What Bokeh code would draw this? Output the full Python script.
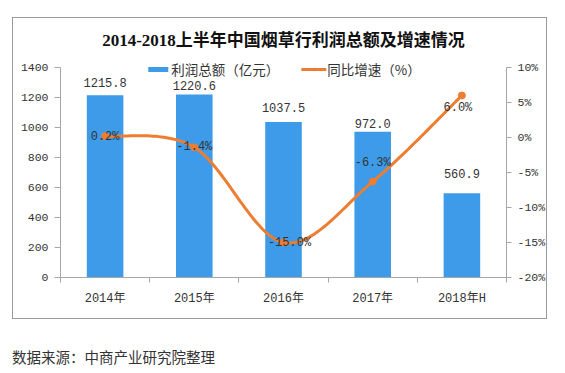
import numpy as np
from bokeh.plotting import figure
from bokeh.models import (Range1d, LinearAxis, FixedTicker, PrintfTickFormatter,
                          ColumnDataSource, LabelSet, Legend, LegendItem, Div)
from bokeh.layouts import column
from bokeh.embed import file_html
from bokeh.resources import INLINE
from bokeh.core.properties import value

# ---- data ----
categories = ["2014年", "2015年", "2016年", "2017年", "2018年H"]
profit = [1215.8, 1220.6, 1037.5, 972.0, 560.9]          # 利润总额（亿元）
growth = [0.2, -1.4, -15.0, -6.3, 6.0]                    # 同比增速（%）
left_ticks = [0, 200, 400, 600, 800, 1000, 1200, 1400]
right_ticks = [-20, -15, -10, -5, 0, 5, 10]
title_text = "2014-2018上半年中国烟草行利润总额及增速情况"
legend_labels = ["利润总额（亿元）", "同比增速（%）"]
source_text = "数据来源：中商产业研究院整理"

# label nudges (style)
profit_label_dy = [13, 9, 14, 8, 20]
growth_label_dx = [0, 0, 6, 0, -4]
growth_label_dy = [-1, 0, 0, 19, -12]

BAR = "#3D9BE9"
ORANGE = "#ED7D31"
AXIS = "#A6A6A6"
TXT = "#333333"
NUM_FONT = "Liberation Mono, Noto Sans CJK SC"

xs = list(range(len(categories)))
L_MIN, L_MAX = left_ticks[0], left_ticks[-1]
R_MIN, R_MAX = right_ticks[0], right_ticks[-1]
# small headroom above the top tick (8px of a 218px frame)
head = 8 / 210
p = figure(width=535, height=302, x_range=Range1d(-0.5, 4.5),
           y_range=Range1d(L_MIN, L_MAX + (L_MAX - L_MIN) * head),
           output_backend="svg", toolbar_location=None,
           min_border_left=47, min_border_right=40, min_border_top=41, min_border_bottom=43)
p.extra_y_ranges = {"pct": Range1d(R_MIN, R_MAX + (R_MAX - R_MIN) * head)}
p.outline_line_color = None
p.xgrid.visible = False
p.ygrid.visible = False
p.background_fill_color = "white"
p.border_fill_color = "white"
p.styles = {"border": "1px solid #9a9a9a"}
p.margin = (17, 0, 0, 12)

# title
p.title.text = title_text
p.title.align = "center"
p.title.text_font = "Liberation Serif, Noto Sans CJK SC"
p.title.text_font_size = "17px"
p.title.text_font_style = "bold"
p.title.text_color = "#111111"
p.title.standoff = 20

# axes
xa = p.xaxis[0]
xa.ticker = FixedTicker(ticks=xs, minor_ticks=[i - 0.5 for i in range(len(categories) + 1)])
xa.major_label_overrides = {i: c for i, c in zip(xs, categories)}
xa.major_tick_out = 0
xa.major_tick_in = 0
xa.minor_tick_out = 5
xa.minor_tick_in = 0
xa.minor_tick_line_color = AXIS
xa.axis_line_color = AXIS
xa.major_label_standoff = 9
xa.major_label_text_font = NUM_FONT
xa.major_label_text_font_size = "12px"
xa.major_label_text_color = TXT

ya = p.yaxis[0]
ya.ticker = FixedTicker(ticks=left_ticks)
ya.bounds = (L_MIN, L_MAX)
ya.major_tick_out = 6
ya.major_tick_in = 0
ya.minor_tick_out = 0
ya.minor_tick_in = 0
ya.axis_line_color = AXIS
ya.major_tick_line_color = AXIS
ya.major_label_standoff = 6
ya.major_label_text_font = NUM_FONT
ya.major_label_text_font_size = "11.5px"
ya.major_label_text_color = TXT

ra = LinearAxis(y_range_name="pct", ticker=FixedTicker(ticks=right_ticks),
                formatter=PrintfTickFormatter(format="%d%%"), bounds=(R_MIN, R_MAX))
ra.major_tick_out = 5
ra.major_tick_in = 0
ra.minor_tick_out = 0
ra.minor_tick_in = 0
ra.axis_line_color = AXIS
ra.major_tick_line_color = AXIS
ra.major_label_standoff = 6
ra.major_label_text_font = NUM_FONT
ra.major_label_text_font_size = "11.5px"
ra.major_label_text_color = TXT
p.add_layout(ra, "right")

# bars
bar_src = ColumnDataSource(dict(x=xs, top=profit, label=[f"{v:.1f}" for v in profit],
                                dy=profit_label_dy))
bars = p.vbar(x="x", top="top", width=0.41, source=bar_src, fill_color=BAR, line_color=None)
p.add_layout(LabelSet(x="x", y="top", text="label", source=bar_src, y_offset="dy",
                      text_align="center", text_baseline="middle",
                      text_font=value(NUM_FONT), text_font_size=value("12px"),
                      text_color=TXT))

# smoothed line (Catmull-Rom style bezier like Excel smoothing)
P = np.array([xs, growth], dtype=float).T
Pext = np.vstack([P[0], P, P[-1]])
t = np.linspace(0, 1, 40)[:, None]
cx, cy = [], []
for i in range(len(P) - 1):
    p0, p3 = P[i], P[i + 1]
    c1 = p0 + (Pext[i + 2] - Pext[i]) / 6.0
    c2 = p3 - (Pext[i + 3] - Pext[i + 1]) / 6.0
    B = (1 - t) ** 3 * p0 + 3 * (1 - t) ** 2 * t * c1 + 3 * (1 - t) * t ** 2 * c2 + t ** 3 * p3
    if i > 0:
        B = B[1:]
    cx.extend(B[:, 0]); cy.extend(B[:, 1])
line_r = p.line(cx, cy, y_range_name="pct", line_color=ORANGE, line_width=3, line_cap="round")
pt_src = ColumnDataSource(dict(x=xs, y=growth, label=[f"{v:.1f}%" for v in growth],
                               dx=growth_label_dx, dy=growth_label_dy))
pts = p.scatter(x="x", y="y", source=pt_src, y_range_name="pct", size=7,
                fill_color=ORANGE, line_color=ORANGE)
p.add_layout(LabelSet(x="x", y="y", text="label", source=pt_src, y_range_name="pct",
                      x_offset="dx", y_offset="dy",
                      text_align="center", text_baseline="middle",
                      text_font=value(NUM_FONT), text_font_size=value("12px"),
                      text_color=TXT))

# legend
legend = Legend(items=[LegendItem(label=legend_labels[0], renderers=[bars]),
                       LegendItem(label=legend_labels[1], renderers=[line_r, pts])],
                orientation="horizontal", location="top_center",
                border_line_color=None, background_fill_alpha=0,
                label_text_font="Noto Sans CJK SC", label_text_font_size="13.5px",
                label_text_color=TXT, glyph_width=25, glyph_height=6, label_height=13,
                label_standoff=1, spacing=22, padding=0, margin=0)
p.add_layout(legend)

src_div = Div(text=source_text, margin=(28, 0, 0, 12),
              styles={"font-size": "14.5px", "color": "#333333",
                      "font-family": "Noto Sans CJK SC"})

layout = column(p, src_div, margin=0)
with open("out.html", "w") as f:
    f.write(file_html(layout, INLINE))
